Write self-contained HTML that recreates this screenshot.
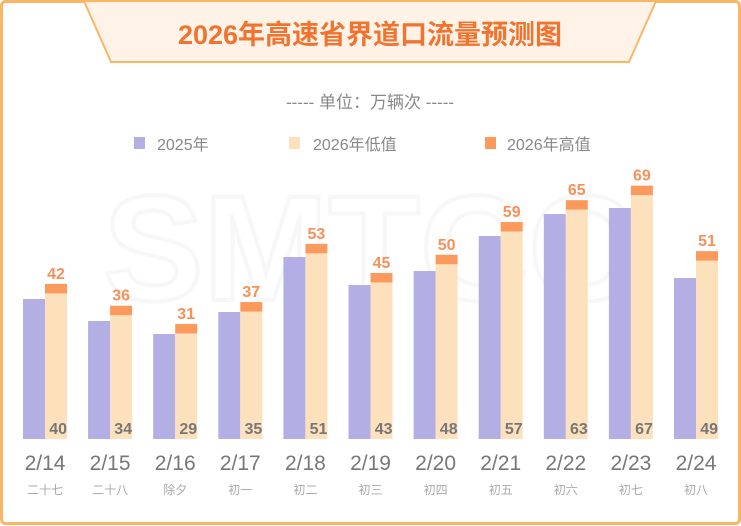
<!DOCTYPE html>
<html><head><meta charset="utf-8"><style>
body{margin:0;background:#fff;}
svg{display:block;font-family:"Liberation Sans","Noto Sans CJK SC",sans-serif;}
</style></head><body>
<svg width="741" height="526" viewBox="0 0 741 526" xmlns="http://www.w3.org/2000/svg">
<rect x="1.5" y="1.5" width="738" height="522" rx="4" fill="#fff" stroke="#f9b766" stroke-width="3"/>
<path d="M84 1 L656 1 L629 62 L111 62 Z" fill="#fff3e8" stroke="#f9b766" stroke-width="2"/>
<text x="370" y="44" text-anchor="middle" font-size="27" font-weight="bold" fill="#f07430">2026年高速省界道口流量预测图</text>
<text x="370" y="108" text-anchor="middle" font-size="17" fill="#888">----- 单位：万辆次 -----</text>
<rect x="134" y="137" width="11" height="12" fill="#b3aee4"/>
<text x="157" y="150" font-size="16" fill="#888">2025年</text>
<rect x="289" y="137" width="11" height="12" fill="#fde1bd"/>
<text x="313" y="150" font-size="16" fill="#888">2026年低值</text>
<rect x="485" y="137" width="11" height="12" fill="#fc9a5e"/>
<text x="507" y="150" font-size="16" fill="#888">2026年高值</text>
<text x="370" y="300" text-anchor="middle" font-size="150" font-weight="bold" fill="none" stroke="#f7f7f7" stroke-width="4">SMTCC</text>
<g id="bars"></g>
</svg>
<script>
var p=[299,321,334,312,257,285,271,236,214,208,278];
var lo=[40,34,29,35,51,43,48,57,63,67,49];
var hi=[42,36,31,37,53,45,50,59,65,69,51];
var d=["2/14","2/15","2/16","2/17","2/18","2/19","2/20","2/21","2/22","2/23","2/24"];
var l=["二十七","二十八","除夕","初一","初二","初三","初四","初五","初六","初七","初八"];
var s="",B=439,k=3.64;
for(var i=0;i<11;i++){var x=23+i*65.1;var ct=B-lo[i]*k;var ot=ct-9.5;
s+='<rect x="'+x+'" y="'+p[i]+'" width="22" height="'+(B-p[i])+'" fill="#b3aee4"/>';
s+='<rect x="'+(x+22)+'" y="'+ct+'" width="22" height="'+(B-ct)+'" fill="#fde1bd"/>';
s+='<rect x="'+(x+22)+'" y="'+ot+'" width="22" height="9.5" fill="#fc9a5e"/>';
s+='<text x="'+(x+33)+'" y="'+(ot-5)+'" text-anchor="middle" font-size="16" font-weight="bold" fill="#f5915a">'+hi[i]+'</text>';
s+='<text x="'+(x+44)+'" y="'+(B-5)+'" text-anchor="end" font-size="16" font-weight="bold" fill="#777">'+lo[i]+'</text>';
s+='<text x="'+(x+22)+'" y="470" text-anchor="middle" font-size="21" fill="#777">'+d[i]+'</text>';
s+='<text x="'+(x+22)+'" y="494" text-anchor="middle" font-size="12" fill="#aaa">'+l[i]+'</text>';}
document.getElementById("bars").innerHTML=s;
</script>
</body></html>
